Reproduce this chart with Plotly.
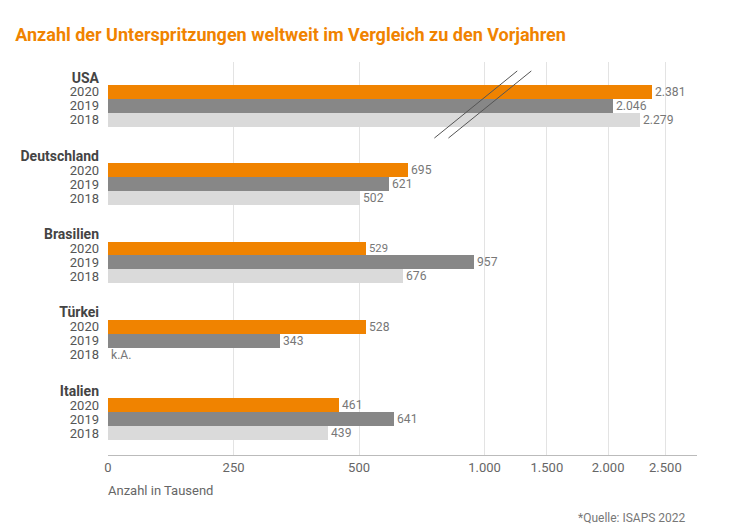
import numpy as np
import plotly.graph_objects as go

countries = ["USA", "Deutschland", "Brasilien", "Türkei", "Italien"]
years = ["2020", "2019", "2018"]
v2020 = [2381, 695, 529, 528, 461]
v2019 = [2046, 621, 957, 343, 641]
v2018 = [2279, 502, 676, None, 439]
xticks = [0, 250, 500, 1000, 1500, 2000, 2500]
xticklabels = ["0", "250", "500", "1.000", "1.500", "2.000", "2.500"]

# broken scale: knots of the piecewise axis
knots_v = [0, 250, 500, 1000, 1500, 2000, 2500]
knots_p = [0, 250, 500, 750, 874, 996, 1110]


def scale(v):
    return float(np.interp(v, knots_v, knots_p))


def fmt(v):
    return f"{v:,}".replace(",", ".")


colors = {"2020": "#F08300", "2019": "#878787", "2018": "#DADADA"}
step = 5.6

fig = go.Figure()
for k, (yr, vals) in enumerate(zip(years, [v2020, v2019, v2018])):
    ys, xs, txt = [], [], []
    for g, v in enumerate(vals):
        ys.append(g * step + 1 + k)
        xs.append(scale(v) if v is not None else 0)
        txt.append(fmt(v) if v is not None else "k.A.")
    fig.add_trace(go.Bar(
        x=xs, y=ys, orientation="h", width=1.0,
        marker=dict(color=colors[yr], line=dict(width=0)),
        text=txt, textposition="outside", cliponaxis=False,
        textfont=dict(color="#777777", size=13), showlegend=False,
    ))

tickvals, ticktext = [], []
for g, c in enumerate(countries):
    tickvals.append(g * step)
    ticktext.append(f"<b><span style='font-size:14px;color:#444444'>{c}</span></b>")
    for k, yr in enumerate(years):
        tickvals.append(g * step + 1 + k)
        ticktext.append(yr)

# break marks on the axis
for dx in (0, 28):
    fig.add_shape(type="line", xref="x", yref="y",
                  x0=650 + dx, x1=815 + dx, y0=4.3, y1=-0.5,
                  line=dict(color="#555555", width=1))

fig.update_layout(
    width=719, height=521,
    margin=dict(l=93, r=30, t=54, b=74),
    paper_bgcolor="white", plot_bgcolor="white",
    font=dict(family="Roboto", color="#555555", size=13),
    bargap=0,
    title=dict(text="<b>Anzahl der Unterspritzungen weltweit im Vergleich zu den Vorjahren</b>",
               x=0.01, y=0.96, xanchor="left", font=dict(color="#F08300", size=18)),
    xaxis=dict(range=[0, 1173], tickvals=[scale(v) for v in xticks], ticktext=xticklabels,
               showgrid=True, gridcolor="#E3E3E3", zeroline=False, showline=True,
               linecolor="#BBBBBB", ticks="", tickfont=dict(color="#666666", size=13)),
    yaxis=dict(range=[26.97, -1.14], tickvals=tickvals, ticktext=ticktext,
               showgrid=False, zeroline=False, ticks="",
               tickfont=dict(size=13, color="#555555")),
    annotations=[
        dict(text="Anzahl in Tausend", xref="paper", yref="paper", x=-0.003, y=-0.09,
             xanchor="left", yanchor="middle", showarrow=False,
             font=dict(size=13, color="#666666")),
        dict(text="*Quelle: ISAPS 2022", xref="paper", yref="paper", x=0.985, y=-0.16,
             xanchor="right", yanchor="middle", showarrow=False,
             font=dict(size=12, color="#777777")),
    ],
)
fig.update_yaxes(ticklabelstandoff=8)

fig.write_html("out.html")
